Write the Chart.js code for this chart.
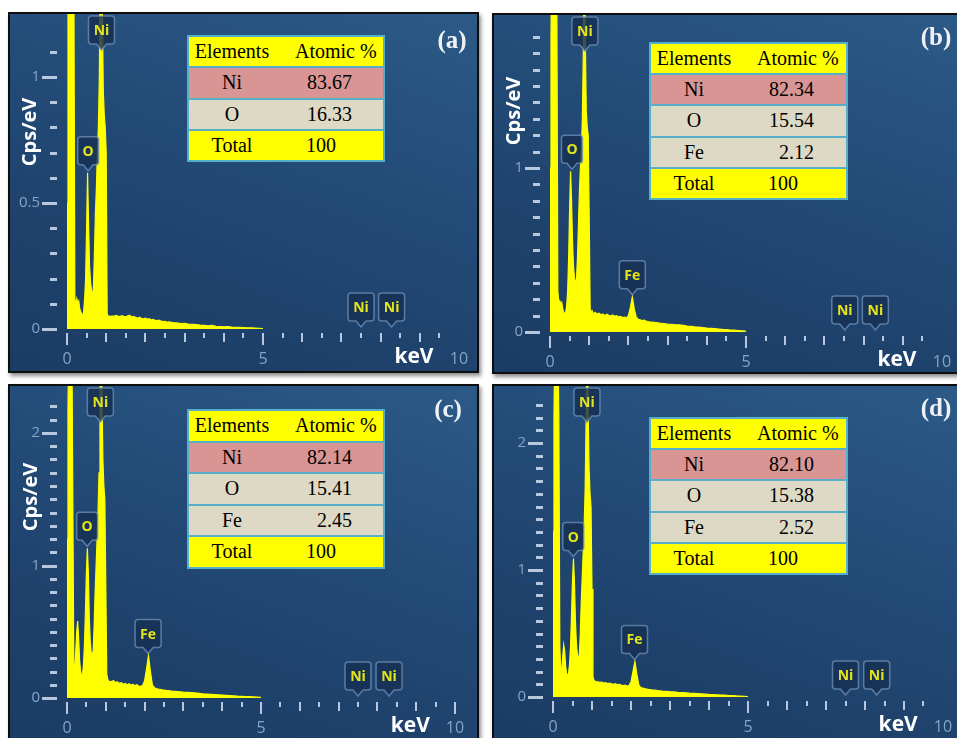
<!DOCTYPE html>
<html><head><meta charset="utf-8">
<script src="https://cdn.jsdelivr.net/npm/chart.js@4/dist/chart.umd.min.js"></script>
<style>
html,body{margin:0;padding:0;background:#fff;}
body{width:957px;height:738px;position:relative;overflow:hidden;font-family:"Open Sans",sans-serif;}
.panel{position:absolute;border:2px solid #0e0e0e;box-shadow:2px 3px 4px rgba(0,0,0,0.45);
  background:linear-gradient(200deg,#2c5a86 0%,#244d7a 35%,#1e426c 70%,#1b3c64 100%);overflow:hidden;}
.panel canvas{position:absolute;left:0;top:0;}
.tbl{position:absolute;font-family:"Liberation Serif","Times New Roman",serif;font-size:20px;color:#000;z-index:5;}
.tbl .row{position:absolute;left:0;right:0;}
.tbl .ln{position:absolute;background:#55afcb;}
.tbl span{position:absolute;top:0;white-space:nowrap;}
</style></head>
<body>
<script>
// ---------------- DATA ----------------
const energy = [0,0.025,0.05,0.075,0.1,0.125,0.15,0.175,0.2,0.225,0.25,0.275,0.3,0.325,0.35,0.375,0.4,0.425,0.45,0.475,0.5,0.525,0.55,0.575,0.6,0.625,0.65,0.675,0.7,0.725,0.75,0.775,0.8,0.825,0.85,0.875,0.9,0.925,0.95,0.975,1.0,1.025,1.05,1.075,1.1,
1.15,1.2,1.25,1.3,1.35,1.4,1.45,1.5,1.55,1.6,1.65,1.7,1.75,1.8,1.85,1.9,1.95,2.0,2.05,2.1,2.15,2.2,2.25,2.3,2.35,2.4,2.45,2.5,2.55,2.6,
2.7,2.8,2.9,3.0,3.1,3.2,3.3,3.4,3.5,3.6,3.7,3.8,3.9,4.0,4.1,4.2,4.3,4.4,4.5,4.6,4.7,4.8,4.9,5.0];

const countsA = [0.5,1.6,2.0,2.0,1.9,1.8,1.7,1.4,0.12,0.1,0.12,0.1,0.11,0.08,0.07,0.06,0.05,0.07,0.12,0.2,0.4,0.62,0.42,0.25,0.19,0.15,0.13,0.17,0.3,0.46,0.56,0.7,0.8,1.0,1.5,2.0,1.3,0.95,0.85,0.8,0.7,0.06,0.05,0.052,0.049,
0.052,0.05,0.054,0.051,0.049,0.053,0.05,0.048,0.052,0.055,0.047,0.05,0.046,0.043,0.047,0.042,0.04,0.043,0.039,0.041,0.036,0.038,0.034,0.033,0.035,0.031,0.029,0.03,0.027,0.028,
0.025,0.024,0.021,0.022,0.019,0.018,0.017,0.015,0.014,0.013,0.014,0.011,0.01,0.009,0.01,0.008,0.007,0.007,0.006,0.005,0.005,0.004,0.003,0.002];

const countsB = [1.0,1.8,2.5,2.5,2.4,2.3,2.2,2.0,0.25,0.18,0.19,0.17,0.18,0.14,0.12,0.11,0.12,0.16,0.25,0.45,0.75,0.98,0.8,0.55,0.4,0.33,0.3,0.32,0.45,0.65,0.85,1.0,1.1,1.3,1.7,2.6,1.8,1.35,1.25,1.2,0.7,0.14,0.12,0.13,0.11,
0.12,0.11,0.115,0.105,0.11,0.1,0.108,0.102,0.097,0.104,0.096,0.1,0.092,0.095,0.088,0.09,0.086,0.1,0.15,0.215,0.14,0.09,0.078,0.074,0.07,0.072,0.066,0.064,0.061,0.06,
0.057,0.054,0.052,0.048,0.046,0.043,0.044,0.04,0.036,0.034,0.031,0.03,0.027,0.024,0.022,0.02,0.018,0.016,0.015,0.012,0.011,0.009,0.007,0.005];

const countsC = [1.2,2.2,2.8,3.0,2.9,2.7,1.5,0.25,0.22,0.35,0.5,0.58,0.45,0.28,0.2,0.17,0.18,0.25,0.4,0.65,0.95,1.13,0.95,0.6,0.42,0.34,0.32,0.36,0.55,0.8,1.0,1.2,1.4,1.7,2.2,3.0,2.3,1.8,1.6,1.5,0.85,0.18,0.14,0.13,0.12,
0.125,0.13,0.118,0.122,0.11,0.115,0.104,0.11,0.1,0.108,0.098,0.102,0.094,0.1,0.09,0.088,0.095,0.13,0.22,0.32,0.2,0.1,0.078,0.072,0.068,0.066,0.062,0.06,0.057,0.056,
0.052,0.05,0.047,0.044,0.042,0.04,0.038,0.035,0.032,0.03,0.028,0.026,0.024,0.022,0.02,0.018,0.016,0.014,0.013,0.011,0.01,0.008,0.006,0.004];

const countsD = [1.3,2.2,2.9,3.1,3.0,2.8,2.2,0.4,0.19,0.22,0.32,0.41,0.36,0.24,0.18,0.17,0.19,0.26,0.4,0.65,0.92,1.09,0.9,0.6,0.42,0.34,0.3,0.33,0.5,0.75,0.95,1.15,1.35,1.65,2.2,3.0,2.3,1.8,1.6,1.5,0.85,0.16,0.13,0.125,0.12,
0.12,0.115,0.118,0.11,0.113,0.106,0.11,0.104,0.1,0.105,0.097,0.1,0.094,0.09,0.093,0.086,0.09,0.12,0.2,0.28,0.18,0.095,0.074,0.07,0.066,0.063,0.06,0.058,0.055,0.054,
0.05,0.047,0.045,0.042,0.04,0.037,0.035,0.033,0.03,0.028,0.026,0.024,0.022,0.02,0.019,0.017,0.015,0.014,0.012,0.011,0.009,0.008,0.006,0.004];

const xTickLabels = ['0','5','10'];
const yTickLabelsA = ['0','0.5','1'];
const yTickLabelsB = ['0','1'];
const yTickLabelsC = ['0','1','2'];
const yTickLabelsD = ['0','1','2'];

const markerElementsA = ['Ni','O','Ni','Ni'];
const markerEnergiesA = [0.88,0.54,7.5,8.28];
const markerLevelsA = ['top',0.62,0,0];
const markerElementsB = ['Ni','O','Fe','Ni','Ni'];
const markerEnergiesB = [0.89,0.56,2.1,7.52,8.3];
const markerLevelsB = ['top',0.98,0.215,0,0];
const markerElementsC = ['Ni','O','Fe','Ni','Ni'];
const markerEnergiesC = [0.86,0.52,2.09,7.5,8.3];
const markerLevelsC = ['top',1.13,0.32,0,0];
const markerElementsD = ['Ni','O','Fe','Ni','Ni'];
const markerEnergiesD = [0.87,0.52,2.09,7.5,8.3];
const markerLevelsD = ['top',1.09,0.28,0,0];

const tableHeader = ['Elements','Atomic %'];
const tableElementsA = ['Ni','O'];
const atomicA = ['83.67','16.33'];
const tableElementsB = ['Ni','O','Fe'];
const atomicB = ['82.34','15.54','2.12'];
const tableElementsC = ['Ni','O','Fe'];
const atomicC = ['82.14','15.41','2.45'];
const tableElementsD = ['Ni','O','Fe'];
const atomicD = ['82.10','15.38','2.52'];
const totalLabel = 'Total';
const totalValue = '100';
const panelLetters = ['(a)','(b)','(c)','(d)'];
const yAxisTitle = 'Cps/eV';
const xAxisTitle = 'keV';

// ---------------- LAYOUT (positions / styles) ----------------
const panels = [
  {key:'a', left:8, top:12, w:467, h:357, x0:57, y0:315, ppk:39.2, ppu:252, counts:countsA, yLabels:yTickLabelsA,
   mk:[markerElementsA,markerEnergiesA,markerLevelsA], letter:panelLetters[0], letterPos:[442,28], cps:[20,118],
   tbl:{left:187,top:36,w:198,h:125}, tEl:tableElementsA, tVal:atomicA},
  {key:'b', left:492, top:13, w:463, h:357, x0:56, y0:317, ppk:39.2, ppu:164, counts:countsB, yLabels:yTickLabelsB,
   mk:[markerElementsB,markerEnergiesB,markerLevelsB], letter:panelLetters[1], letterPos:[442,24], cps:[20,96],
   tbl:{left:649,top:43,w:199,h:156}, tEl:tableElementsB, tVal:atomicB},
  {key:'c', left:8, top:384, w:467, h:352, x0:57, y0:312, ppk:38.8, ppu:132.5, counts:countsC, yLabels:yTickLabelsC,
   mk:[markerElementsC,markerEnergiesC,markerLevelsC], letter:panelLetters[2], letterPos:[438,25], cps:[21,111],
   tbl:{left:187,top:410,w:198,h:158}, tEl:tableElementsC, tVal:atomicC},
  {key:'d', left:492, top:384, w:463, h:352, x0:59, y0:311, ppk:39.0, ppu:127, counts:countsD, yLabels:yTickLabelsD,
   mk:[markerElementsD,markerEnergiesD,markerLevelsD], letter:panelLetters[3], letterPos:[442,24], cps:null,
   tbl:{left:649,top:418,w:199,h:156}, tEl:tableElementsD, tVal:atomicD}
];

function drawMarker(ctx, cx, tipY, text, withPointer) {
  ctx.font = 'bold 14px "Open Sans"';
  const tw = ctx.measureText(text).width;
  const w = Math.max(21, Math.round(tw + 10)), h = 28, r = 3;
  const bottom = tipY - 6, top = bottom - h, left = cx - w/2, right = cx + w/2;
  ctx.beginPath();
  ctx.moveTo(left + r, top);
  ctx.lineTo(right - r, top); ctx.quadraticCurveTo(right, top, right, top + r);
  ctx.lineTo(right, bottom - r); ctx.quadraticCurveTo(right, bottom, right - r, bottom);
  if (withPointer) { ctx.lineTo(cx + 5, bottom); ctx.lineTo(cx, bottom + 6); ctx.lineTo(cx - 5, bottom); }
  ctx.lineTo(left + r, bottom); ctx.quadraticCurveTo(left, bottom, left, bottom - r);
  ctx.lineTo(left, top + r); ctx.quadraticCurveTo(left, top, left + r, top);
  ctx.closePath();
  ctx.fillStyle = 'rgba(22,47,82,0.82)';
  ctx.fill();
  ctx.lineWidth = 1.5;
  ctx.strokeStyle = 'rgba(112,146,186,0.75)';
  ctx.stroke();
  ctx.fillStyle = '#e4e41c';
  ctx.textAlign = 'center'; ctx.textBaseline = 'middle';
  ctx.fillText(text, cx, top + h/2 + 1);
}

function edsPlugin(p) {
  return {
    id: 'eds' + p.key,
    afterDatasetsDraw(chart) {
      const ctx = chart.ctx, xs = chart.scales.x, ys = chart.scales.y;
      const x0 = xs.getPixelForValue(0), y0 = ys.getPixelForValue(0);
      ctx.save();
      // y tick marks
      ctx.fillStyle = 'rgba(196,212,232,0.92)';
      ys.ticks.forEach(t => {
        const v = t.value, k = Math.round(v * 10);
        if (Math.abs(v * 10 - k) > 1e-6) return;
        const major = p.yLabels.some(l => Math.abs(parseFloat(l) - v) < 1e-6);
        const py = Math.round(ys.getPixelForValue(v));
        const len = major ? 15 : 7;
        ctx.fillRect(Math.round(x0) - 10 - len, py - 1, len, 3);
      });
      // x tick marks
      xs.ticks.forEach(t => {
        const v = t.value, k = Math.round(v * 2);
        if (Math.abs(v * 2 - k) > 1e-6) return;
        const px = Math.round(xs.getPixelForValue(v));
        let len = 5;
        if (k % 2 === 0) len = 9;
        if (k % 10 === 0) len = 12;
        ctx.fillRect(px - 1, Math.round(y0) + 4, 2, len);
      });
      // tick labels
      ctx.fillStyle = '#86a4c6';
      ctx.font = '15px "Open Sans"';
      ctx.textAlign = 'right'; ctx.textBaseline = 'middle';
      p.yLabels.forEach(l => ctx.fillText(l, x0 - 27, ys.getPixelForValue(parseFloat(l))));
      ctx.font = '16px "Open Sans"';
      ctx.textAlign = 'center';
      xTickLabels.forEach(l => ctx.fillText(l, xs.getPixelForValue(parseFloat(l)), y0 + 30));
      // axis titles
      ctx.fillStyle = '#ffffff';
      ctx.font = 'bold 21px "Open Sans"';
      ctx.fillText(xAxisTitle, xs.getPixelForValue(8.85), y0 + 28);
      if (p.cps) {
        ctx.save();
        ctx.translate(p.cps[0], p.cps[1]);
        ctx.rotate(-Math.PI / 2);
        ctx.font = 'bold 20px "Open Sans"';
        ctx.fillText(yAxisTitle, 0, 0);
        ctx.restore();
      }
      // panel letter
      ctx.fillStyle = '#eef2f7';
      ctx.font = 'bold 25px "Liberation Serif"';
      ctx.fillText(p.letter, p.letterPos[0], p.letterPos[1]);
      // peak markers
      const [names, ens, lv] = p.mk;
      names.forEach((n, i) => {
        const cx = xs.getPixelForValue(ens[i]);
        let tip;
        if (lv[i] === 'top') tip = chart.chartArea.top + 2 + 28 + 6;
        else tip = ys.getPixelForValue(lv[i]) - 2;
        drawMarker(ctx, cx, tip, n, true);
      });
      ctx.restore();
    }
  };
}

function buildTable(p) {
  const t = p.tbl;
  const rows = [['hdr', tableHeader[0], tableHeader[1], '#ffff00']];
  p.tEl.forEach((e, i) => rows.push(['val', e, p.tVal[i], i === 0 ? '#d99594' : '#ddd9c4']));
  rows.push(['tot', totalLabel, totalValue, '#ffff00']);
  const box = document.createElement('div');
  box.className = 'tbl';
  box.style.left = t.left + 'px'; box.style.top = t.top + 'px';
  box.style.width = t.w + 'px'; box.style.height = t.h + 'px';
  const rh = t.h / rows.length;
  rows.forEach((r, i) => {
    const row = document.createElement('div');
    row.className = 'row';
    row.style.top = (i * rh) + 'px'; row.style.height = rh + 'px';
    row.style.background = r[3];
    row.style.lineHeight = rh + 'px';
    const s1 = document.createElement('span');
    s1.textContent = r[1];
    s1.style.left = '45px'; s1.style.transform = 'translateX(-50%)';
    row.appendChild(s1);
    const s2 = document.createElement('span');
    s2.textContent = r[2];
    if (r[0] === 'hdr') s2.style.left = '108px';
    else if (r[0] === 'tot') s2.style.left = '119px';
    else s2.style.right = (t.w - 165) + 'px';
    row.appendChild(s2);
    box.appendChild(row);
  });
  for (let i = 0; i <= rows.length; i++) {
    const ln = document.createElement('div');
    ln.className = 'ln';
    ln.style.left = '0px'; ln.style.width = t.w + 'px';
    ln.style.top = (i * rh - 1) + 'px'; ln.style.height = '2px';
    box.appendChild(ln);
  }
  ['0px', (t.w - 2) + 'px'].forEach(x => {
    const ln = document.createElement('div');
    ln.className = 'ln';
    ln.style.left = x; ln.style.width = '2px';
    ln.style.top = '-1px'; ln.style.height = (t.h + 2) + 'px';
    box.appendChild(ln);
  });
  document.body.appendChild(box);
}

panels.forEach(p => {
  const div = document.createElement('div');
  div.className = 'panel';
  div.style.left = p.left + 'px'; div.style.top = p.top + 'px';
  div.style.width = p.w + 'px'; div.style.height = p.h + 'px';
  const cv = document.createElement('canvas');
  cv.width = p.w; cv.height = p.h;
  cv.style.width = p.w + 'px'; cv.style.height = p.h + 'px';
  div.appendChild(cv);
  document.body.appendChild(div);
  const xmax = (p.w - p.x0) / p.ppk;
  const ymax = p.y0 / p.ppu;
  new Chart(cv, {
    type: 'line',
    data: { datasets: [{
      data: energy.map((e, i) => ({x: e, y: p.counts[i]})),
      borderColor: '#ffff00', backgroundColor: '#ffff00', borderWidth: 1.2,
      fill: 'origin', pointRadius: 0, tension: 0
    }]},
    options: {
      responsive: false, animation: false, devicePixelRatio: 1, events: [],
      layout: { padding: 0 },
      plugins: { legend: { display: false }, tooltip: { enabled: false } },
      scales: {
        x: { type: 'linear', min: 0, max: xmax,
             grid: { display: false, drawTicks: false }, border: { display: false },
             ticks: { display: false, stepSize: 0.5, autoSkip: false },
             afterFit: s => { s.height = p.h - p.y0; } },
        y: { type: 'linear', min: 0, max: ymax,
             grid: { display: false, drawTicks: false }, border: { display: false },
             ticks: { display: false, stepSize: 0.1, autoSkip: false },
             afterFit: s => { s.width = p.x0; } }
      }
    },
    plugins: [edsPlugin(p)]
  });
  buildTable(p);
});
</script>
</body></html>
